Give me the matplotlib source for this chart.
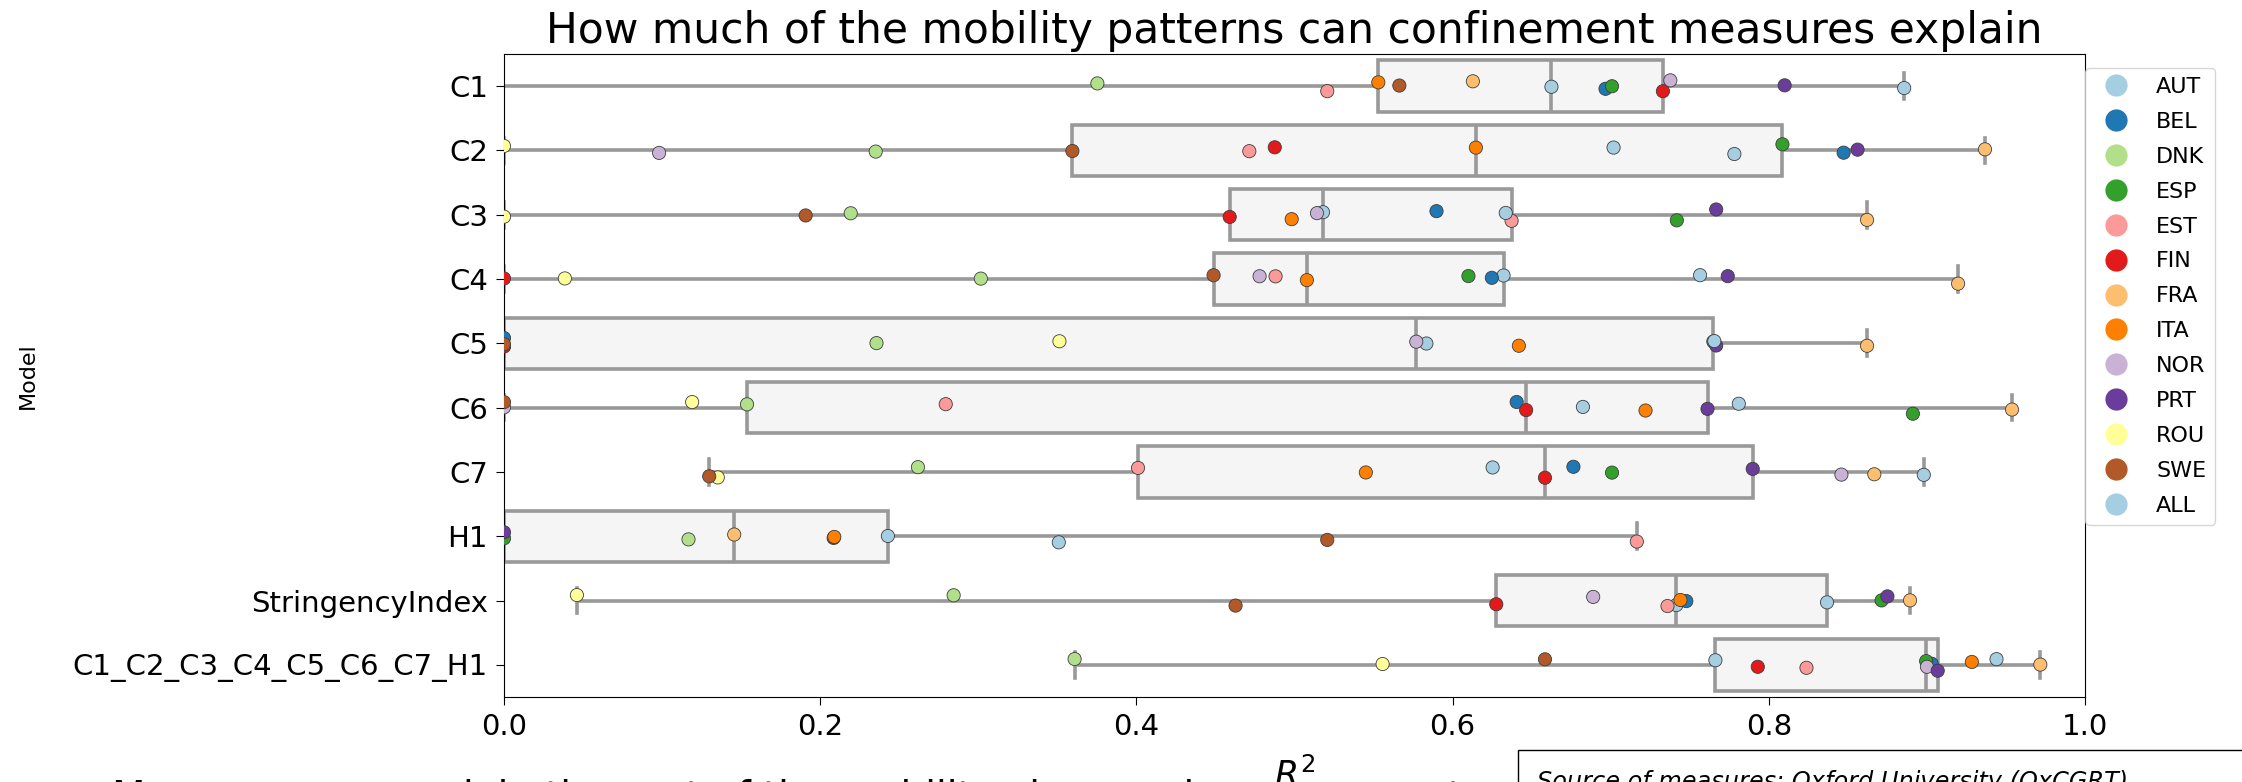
import numpy as np
import pandas as pd
import matplotlib
matplotlib.use("Agg")
import matplotlib.pyplot as plt
import seaborn as sns
from matplotlib.lines import Line2D

models = ["C1", "C2", "C3", "C4", "C5", "C6", "C7", "H1",
          "StringencyIndex", "C1_C2_C3_C4_C5_C6_C7_H1"]
countries = ["AUT", "BEL", "DNK", "ESP", "EST", "FIN", "FRA",
             "ITA", "NOR", "PRT", "ROU", "SWE", "ALL"]

# R^2 per model, in the order of `countries`
c1 = [0.6625, 0.6967, 0.3753, 0.7008, 0.5207, 0.7330, 0.6128, 0.5530, 0.7377, 0.8100, -0.05, 0.5663, 0.8856]
c2 = [0.7018, 0.8473, 0.2351, 0.8086, 0.4714, 0.4875, 0.9367, 0.6147, 0.0981, 0.8561, 0.0, 0.3595, 0.7782]
c3 = [0.5180, 0.5898, 0.2193, 0.7418, 0.6373, 0.4590, 0.8621, 0.4982, 0.5142, 0.7667, 0.0, 0.1908, 0.6336]
c4 = [0.6322, 0.6248, 0.3016, 0.6100, 0.4880, 0.0, 0.9197, 0.5078, 0.4779, 0.7740, 0.0385, 0.4488, 0.7565]
c5 = [0.5834, 0.0, 0.2356, 0.7649, 0.0, 0.0, 0.8621, 0.6419, 0.5770, 0.7667, 0.3513, 0.0, 0.7655]
c6 = [0.6824, 0.6405, 0.1537, 0.8911, 0.2794, 0.6465, 0.9538, 0.7220, 0.0, 0.7612, 0.1190, 0.0, 0.7810]
c7 = [0.6253, 0.6764, 0.2618, 0.7008, 0.4010, 0.6584, 0.8667, 0.5451, 0.8459, 0.7898, 0.1352, 0.1298, 0.8980]
h1 = [0.2428, -0.05, 0.1167, 0.0, 0.7165, 0.2085, 0.1456, 0.2089, -0.1, 0.0, -0.2, 0.5207, 0.3509]
stringency = [0.7415, 0.7478, 0.2844, 0.8713, 0.7359, 0.6276, 0.8893, 0.7441, 0.6889, 0.8750, 0.0461, 0.4627, 0.8368]
all_measures = [0.7662, 0.9030, 0.3609, 0.8995, 0.8238, 0.7930, 0.9717, 0.9284, 0.9000, 0.9068, 0.5557, 0.6584, 0.9440]

values = [c1, c2, c3, c4, c5, c6, c7, h1, stringency, all_measures]
rows = []
for m, vals in zip(models, values):
    for c, v in zip(countries, vals):
        rows.append({"Model": m, "Country": c, "R2": v})
df = pd.DataFrame(rows)

palette = sns.color_palette("Paired", len(countries))

fig = plt.figure(figsize=(22.42, 7.82), dpi=100)
ax = fig.add_axes([0.2248, 0.1087, 0.930 - 0.2248, 0.931 - 0.1087])

sns.boxplot(data=df, x="R2", y="Model", order=models, color="whitesmoke",
            linecolor="#999999", linewidth=2.6, whis=np.inf, showfliers=False,
            width=0.8, ax=ax)
np.random.seed(3)
sns.stripplot(data=df, x="R2", y="Model", order=models, hue="Country",
              hue_order=countries, palette=palette, size=9.5, linewidth=0.6,
              edgecolor="gray", jitter=True, ax=ax, legend=False, zorder=3)

ax.set_xlim(0, 1)
ax.set_title("How much of the mobility patterns can confinement measures explain",
             fontsize=30.5, pad=8)
ax.set_xlabel("$R^2$", fontsize=25, labelpad=12)
ax.set_ylabel("Model", fontsize=16)
ax.yaxis.set_label_coords(-0.295, 0.5)
ax.tick_params(axis="both", labelsize=21, length=5.5, pad=6)

handles = [Line2D([], [], marker="o", linestyle="none", markersize=16,
                  markerfacecolor=palette[i], markeredgewidth=0)
           for i in range(len(countries))]
ax.legend(handles, countries, loc="upper left", bbox_to_anchor=(1.0, 0.978),
          borderaxespad=0, fontsize=16, labelspacing=0.67)

fig.text(0.05, -0.034, "Measures can explain the part of the mobility changes in every country observed",
         fontsize=28, va="baseline")
fig.text(0.6855, -0.06,
         "Source of measures: Oxford University (OxCGRT)\nSource of mobility data: Google COVID-19 Community Mobility Reports",
         fontsize=17.3, style="italic", va="bottom", ha="left", linespacing=1.6,
         bbox=dict(boxstyle="square,pad=0.8", facecolor="white", edgecolor="black"))

fig.savefig("out.png", dpi=100)
